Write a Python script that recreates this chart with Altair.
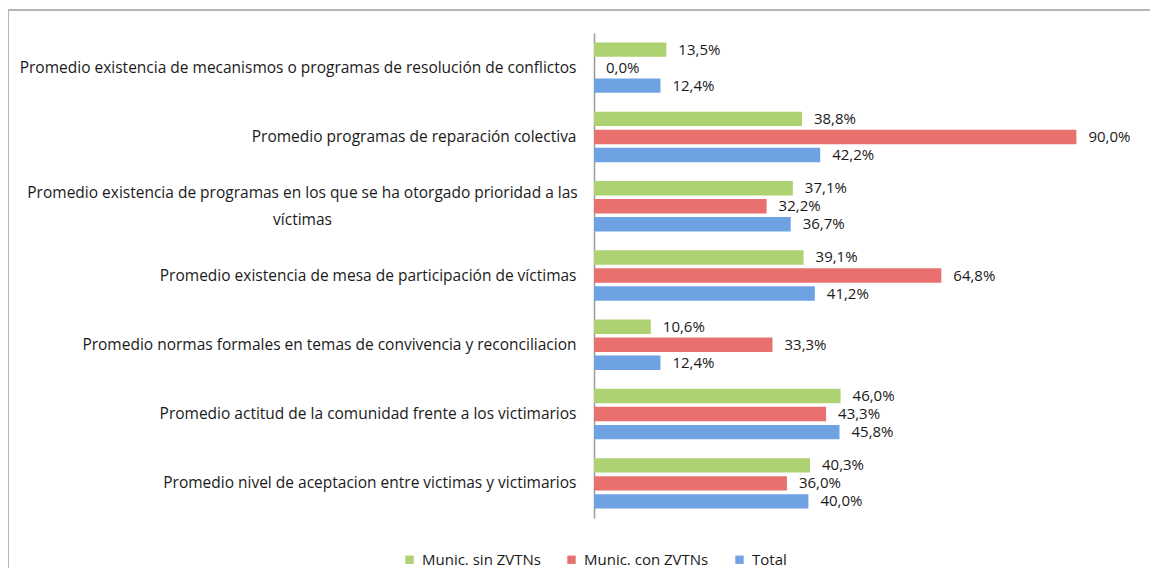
import altair as alt
import pandas as pd

categories = [
    "Promedio existencia de mecanismos o programas de resolución de conflictos",
    "Promedio programas de reparación colectiva",
    "Promedio existencia de programas en los que se ha otorgado prioridad a las\nvíctimas",
    "Promedio existencia de mesa de participación de víctimas",
    "Promedio normas formales en temas de convivencia y reconciliacion",
    "Promedio actitud de la comunidad frente a los victimarios ",
    "Promedio nivel de aceptacion entre victimas y victimarios",
]
series = ["Munic. sin ZVTNs", "Munic. con ZVTNs", "Total"]
sin_zvtn = [13.5, 38.8, 37.1, 39.1, 10.6, 46.0, 40.3]
con_zvtn = [0.0, 90.0, 32.2, 64.8, 33.3, 43.3, 36.0]
total = [12.4, 42.2, 36.7, 41.2, 12.4, 45.8, 40.0]
colors = ["#AED271", "#E8716F", "#6EA2E2"]

rows = []
for vals, s in zip([sin_zvtn, con_zvtn, total], series):
    for c, v in zip(categories, vals):
        rows.append({"cat": c, "serie": s, "valor": v})
df = pd.DataFrame(rows)

FONT = "Open Sans"
WRAP = "indexof(datum.value, '\\n') >= 0"

y_enc = alt.Y(
    "cat:N",
    sort=categories,
    title=None,
    scale=alt.Scale(paddingInner=0.22, paddingOuter=0.11),
    axis=alt.Axis(
        ticks=False,
        grid=False,
        domainColor="#9a9a9a",
        domainWidth=1.5,
        labelFont=FONT,
        labelFontSize=15.5,
        labelColor="#1a1a1a",
        labelLimit=700,
        labelLineHeight=27,
        labelExpr="split(datum.label, '\\n')",
        labelAlign={"condition": {"test": WRAP, "value": "center"}, "value": "right"},
        labelPadding={"condition": {"test": WRAP, "value": 292}, "value": 18},
        labelOffset={"condition": {"test": WRAP, "value": -13}, "value": 0},
    ),
)
yoff = alt.YOffset("serie:N", sort=series, scale=alt.Scale(paddingInner=0.2, paddingOuter=0.1))
x_enc = alt.X("valor:Q", scale=alt.Scale(domain=[0, 100]), axis=None, title=None)

color_enc = alt.Color(
    "serie:N",
    sort=series,
    scale=alt.Scale(domain=series, range=colors),
    legend=alt.Legend(
        title=None,
        orient="none",
        direction="horizontal",
        legendX=-192,
        legendY=519,
        symbolType="square",
        symbolSize=70,
        symbolStrokeWidth=0,
        labelFont=FONT,
        labelFontSize=15,
        labelColor="#1a1a1a",
        columnPadding=23,
        labelOffset=5,
    ),
)

base = alt.Chart(df)
bars = base.mark_bar().encode(y=y_enc, yOffset=yoff, x=x_enc, color=color_enc)
labels = base.mark_text(align="left", baseline="middle", dx=12, font=FONT, fontSize=15, color="#1a1a1a").transform_calculate(
    lab="replace(format(datum.valor, '.1f'), '.', ',') + '%'"
).encode(y=y_enc, yOffset=yoff, x=x_enc, text="lab:N")

border_top = alt.Chart(pd.DataFrame({"a": [0]})).mark_rule(color="#b5b5b5", strokeWidth=2).encode(
    x=alt.value(-586), x2=alt.value(560), y=alt.value(-23)
)
border_left = alt.Chart(pd.DataFrame({"a": [0]})).mark_rule(color="#b5b5b5", strokeWidth=2).encode(
    x=alt.value(-586), y=alt.value(-23), y2=alt.value(540)
)

chart = alt.layer(bars, labels, border_top, border_left).properties(
    width=536, height=485,
    padding={"left": 586, "top": 25, "right": 20, "bottom": 50},
    autosize=alt.AutoSizeParams(type="none"),
    background="white",
).configure_view(stroke=None)

chart.save("out.html", embed_options={"renderer": "svg", "actions": False})
